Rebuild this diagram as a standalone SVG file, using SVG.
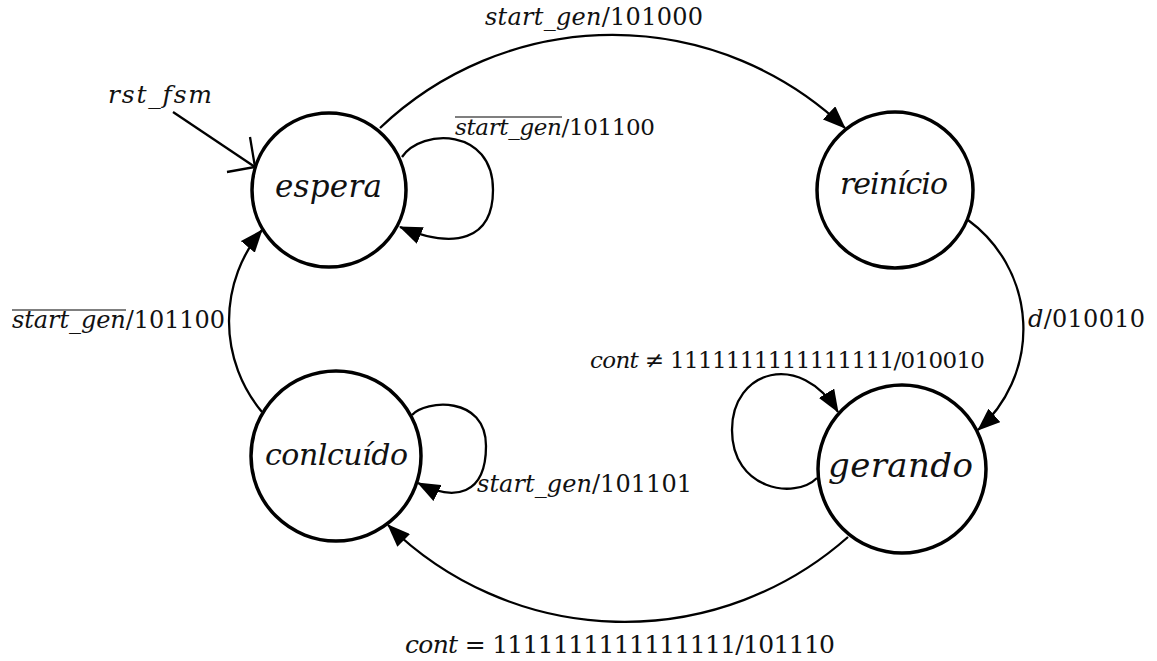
<svg xmlns="http://www.w3.org/2000/svg" width="1157" height="661" viewBox="0 0 1157 661">
  <style>
    .state { fill: #fff; stroke: #000; stroke-width: 3.5; }
    .sname { font-family: "DejaVu Serif", "Liberation Serif", serif; font-style: italic; font-size: 31px; fill: #111; }
    .edge { fill: none; stroke: #000; stroke-width: 2.3; }
    .arrow { marker-end: url(#head); }
    .lbl { font-family: "DejaVu Serif", "Liberation Serif", serif; font-size: 24px; fill: #111; }
    .it { font-style: italic; }
    .bar { stroke: #555; stroke-width: 1.6; }
  </style>
  <defs>
    <marker id="head" markerUnits="userSpaceOnUse" viewBox="0 0 23 18" markerWidth="23" markerHeight="18" refX="22" refY="9" orient="auto">
      <path d="M0,0 L23,9 L0,18 z" fill="#000"/>
    </marker>
  </defs>

  <rect width="1157" height="661" fill="#fff"/>

  <!-- states -->
  <g id="espera">
    <circle class="state" cx="329" cy="190" r="77"/>
    <text class="sname" x="275" y="197" textLength="107">espera</text>
  </g>
  <g id="reinicio">
    <circle class="state" cx="895" cy="190" r="78"/>
    <text class="sname" x="840" y="194" textLength="108" style="font-size:30px">reinício</text>
  </g>
  <g id="gerando">
    <circle class="state" cx="902" cy="469" r="84"/>
    <text class="sname" x="828" y="477" textLength="145" style="font-size:34px">gerando</text>
  </g>
  <g id="concluido">
    <circle class="state" cx="336" cy="456" r="85"/>
    <text class="sname" x="265" y="465" textLength="143" style="font-size:30px">conlcuído</text>
  </g>

  <!-- transitions -->
  <g id="connectors">
    <!-- reset entry -->
    <g id="reset">
      <line class="edge" x1="173" y1="112" x2="255" y2="167"/>
      <polyline class="edge" points="250,137 255,167 227,172"/>
      <text class="lbl it" x="108" y="103" textLength="104" style="font-size:25px">rst_fsm</text>
    </g>

    <!-- espera -> reinicio -->
    <g id="e-espera-reinicio">
      <path class="edge arrow" d="M380,128 A337,337 0 0 1 845,128"/>
      <text class="lbl" x="485" y="25" textLength="218"><tspan class="it">start_gen</tspan>/101000</text>
    </g>

    <!-- espera self loop -->
    <g id="e-espera-loop">
      <path class="edge arrow" d="M402,157 C422,128 493,128 493,190 C493,240 455,250 400,227"/>
      <text class="lbl" x="455" y="135" textLength="200" style="font-size:23px"><tspan class="it">start_gen</tspan>/101100</text>
      <line class="bar" x1="455" y1="117" x2="562" y2="117"/>
    </g>

    <!-- reinicio -> gerando -->
    <g id="e-reinicio-gerando">
      <path class="edge arrow" d="M968,220 A135,135 0 0 1 978,430"/>
      <text class="lbl" x="1028" y="327" textLength="117"><tspan class="it">d</tspan>/010010</text>
    </g>

    <!-- gerando self loop -->
    <g id="e-gerando-loop">
      <path class="edge arrow" d="M817,478 C795,500 732,490 732,430 C732,370 800,350 838,412"/>
      <text class="lbl" x="590" y="368" textLength="395" style="font-size:23px"><tspan class="it">cont</tspan> ≠ 1111111111111111/010010</text>
    </g>

    <!-- gerando -> concluido -->
    <g id="e-gerando-concluido">
      <path class="edge arrow" d="M848,537 A337,337 0 0 1 388,525"/>
      <text class="lbl" x="405" y="653" textLength="430" style="font-size:25px"><tspan class="it">cont</tspan> = 1111111111111111/101110</text>
    </g>

    <!-- concluido self loop -->
    <g id="e-concluido-loop">
      <path class="edge arrow" d="M412,415 C425,400 486,395 486,446 C486,495 455,502 418,483"/>
      <text class="lbl" x="477" y="492" textLength="215"><tspan class="it">start_gen</tspan>/101101</text>
    </g>

    <!-- concluido -> espera -->
    <g id="e-concluido-espera">
      <path class="edge arrow" d="M262,412 A142,142 0 0 1 262,230"/>
      <text class="lbl" x="12" y="328" textLength="213"><tspan class="it">start_gen</tspan>/101100</text>
      <line class="bar" x1="12" y1="310" x2="126" y2="310"/>
    </g>
  </g>
</svg>
